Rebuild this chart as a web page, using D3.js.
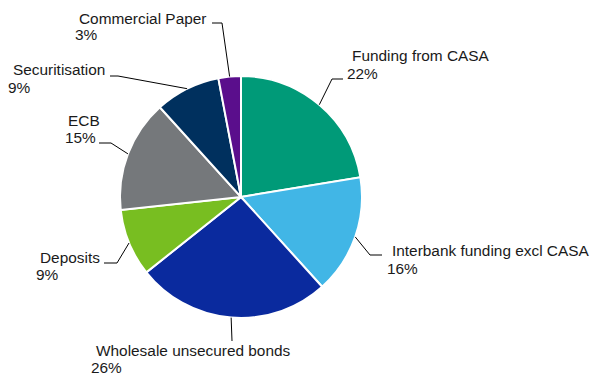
<!DOCTYPE html>
<html>
<head>
<meta charset="utf-8">
<script src="https://cdn.jsdelivr.net/npm/d3@7"></script>
<style>
  body { margin: 0; background: #fff; }
  text { font-family: "Liberation Sans", Arial, sans-serif; font-size: 15.4px; fill: #1a1a1a; }
</style>
</head>
<body>
<svg id="chart" width="590" height="373"></svg>
<script>
// funding mix, clockwise from 12 o'clock
var categories = ["Funding from CASA", "Interbank funding excl CASA", "Wholesale unsecured bonds",
    "Deposits", "ECB", "Securitisation", "Commercial Paper"];
var shares = [22.4, 15.9, 26.0, 9.0, 15.0, 8.7, 3.0];
var sliceColors = ["#009a78", "#41b6e6", "#0a2a9e", "#78be21", "#75787b", "#00305e", "#5a0e8c"];

var svg = d3.select("#chart"),
    cx = 241, cy = 197,
    radius = 121;

var g = svg.append("g").attr("transform", "translate(" + cx + "," + cy + ")");

var data = categories.map(function (c, i) { return { name: c, value: shares[i], color: sliceColors[i] }; });

var pie = d3.pie().sort(null).value(function (d) { return d.value; });
var arc = d3.arc().innerRadius(0).outerRadius(radius);
var arcs = pie(data);

g.selectAll("path")
    .data(arcs)
    .enter().append("path")
    .attr("d", arc)
    .attr("fill", function (d) { return d.data.color; })
    .attr("stroke", "#fff")
    .attr("stroke-width", 2);

// label placement (relative to svg): name line, pct line, elbow and end of leader
var labelPos = [
    { nx: 352, ny: 61, px: 347, py: 79, ex: 332, ey: 79, hx: 343 },
    { nx: 392, ny: 256, px: 387, py: 274, ex: 370, ey: 255, hx: 382 },
    { nx: 96, ny: 356, px: 91, py: 373, ex: 232, ey: 341, hx: 232 },
    { nx: 40, ny: 263, px: 36, py: 280, ex: 117, ey: 263, hx: 104 },
    { nx: 68, ny: 126, px: 65, py: 143, ex: 111, ey: 143, hx: 99 },
    { nx: 13, ny: 75, px: 8, py: 93, ex: 118, ey: 76, hx: 110 },
    { nx: 79, ny: 24, px: 75, py: 40, ex: 222, ey: 23, hx: 212 }
];

var labels = svg.append("g");

arcs.forEach(function (d, i) {
    var p = labelPos[i];
    var mid = (d.startAngle + d.endAngle) / 2;
    var sx = cx + radius * Math.sin(mid),
        sy = cy - radius * Math.cos(mid);

    labels.append("polyline")
        .attr("points", [[sx, sy], [p.ex, p.ey], [p.hx, p.ey]].map(function (q) { return q.join(","); }).join(" "))
        .attr("fill", "none")
        .attr("stroke", "#000")
        .attr("stroke-width", 1);

    labels.append("text")
        .attr("x", p.nx)
        .attr("y", p.ny)
        .text(d.data.name);

    labels.append("text")
        .attr("x", p.px)
        .attr("y", p.py)
        .text(Math.round(d.data.value) + "%");
});
</script>
</body>
</html>
